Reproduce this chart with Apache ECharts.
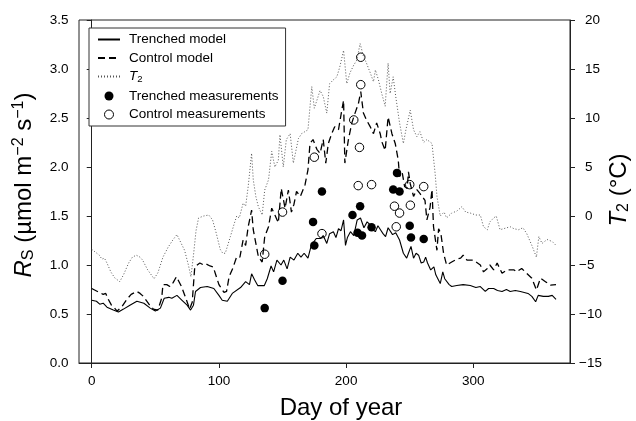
<!DOCTYPE html>
<html>
<head>
<meta charset="utf-8">
<script src="https://cdn.jsdelivr.net/npm/echarts@6/dist/echarts.min.js"></script>
<style>html,body{margin:0;padding:0;background:#fff}#c{width:636px;height:421px}</style>
</head>
<body>
<div id="c"></div>
<script>
// ---- data ----
const xTicks = [0, 100, 200, 300];
const trenchedModel = [[0,0.64],[3.7,0.63],[6.3,0.60],[9,0.61],[12,0.57],[17,0.54],[21,0.52],[25,0.55],[30,0.59],[35.5,0.63],[41,0.61],[46,0.56],[50,0.53],[54,0.56],[57,0.66],[60.6,0.67],[63,0.66],[67,0.69],[71,0.64],[75,0.59],[77.7,0.54],[80,0.59],[81.6,0.73],[85.5,0.77],[90.8,0.78],[96,0.76],[100,0.69],[102.6,0.64],[106.6,0.63],[110.5,0.71],[117,0.77],[121,0.83],[124,0.80],[125.7,0.91],[128,0.85],[130.5,0.79],[135.7,0.79],[138,0.86],[141,0.99],[143,0.93],[145.6,1.05],[148.8,1.00],[151,1.05],[153.6,0.96],[156,1.08],[159,1.05],[162,1.12],[164.5,1.08],[167,1.12],[170,1.07],[172.6,1.20],[176.5,1.27],[180,1.27],[182,1.30],[184.8,1.22],[187,1.32],[190,1.34],[192,1.28],[194,1.37],[196,1.35],[198,1.46],[199.5,1.20],[201,1.28],[203.4,1.34],[206,1.30],[208.7,1.46],[211.3,1.48],[214,1.38],[216.5,1.44],[219,1.41],[221,1.36],[223,1.34],[225,1.40],[227,1.36],[229,1.32],[231,1.29],[233,1.38],[234,1.39],[236.5,1.31],[239,1.33],[242,1.255],[245,1.12],[247.6,1.07],[249,1.12],[251,1.19],[253,1.07],[255,1.12],[257,1.10],[259,1.02],[261,1.03],[262.5,1.08],[264,1.02],[266.5,0.95],[269,0.98],[270.5,0.90],[272,0.88],[274,0.81],[276,0.93],[277.5,0.86],[279,0.85],[281,0.80],[283,0.78],[287,0.79],[292,0.80],[297.6,0.79],[302,0.77],[305.5,0.78],[309.4,0.73],[312,0.76],[316,0.76],[319,0.74],[322.6,0.73],[326,0.75],[329,0.73],[333,0.74],[337,0.73],[340,0.72],[343,0.71],[346,0.68],[349,0.625],[351,0.69],[355,0.68],[359,0.68],[362,0.69],[365,0.65]];
const controlModel = [[0,0.76],[3,0.74],[6,0.72],[9,0.70],[11,0.71],[13,0.65],[15.5,0.59],[18,0.56],[20,0.53],[24,0.58],[27.6,0.65],[31,0.70],[35.4,0.73],[38,0.71],[40.6,0.68],[45,0.60],[48.5,0.55],[52,0.54],[55,0.66],[56,0.80],[59,0.80],[61.4,0.78],[64,0.82],[66.6,0.88],[70.6,0.78],[74,0.66],[77,0.55],[79,0.62],[81,0.98],[85,1.02],[88,1.00],[90,1.01],[93,0.99],[95.5,0.98],[98,0.88],[100,0.80],[102,0.76],[104,0.72],[106,0.73],[108,0.88],[111,0.97],[114,1.085],[116.5,1.08],[119,1.255],[121,1.20],[123,1.39],[125.7,1.56],[127,1.36],[131,1.085],[134,1.03],[136,1.29],[139,1.39],[141.5,1.58],[144,1.51],[146.7,1.43],[149,1.78],[152,1.58],[154.6,1.765],[157,1.54],[159,1.62],[161,1.75],[164,1.70],[167.7,1.82],[170,1.97],[171.6,2.24],[174,2.28],[177,2.18],[179.5,2.14],[182,2.28],[184,2.04],[186,2.24],[188.7,2.34],[191,2.41],[194,2.38],[196.6,2.58],[198,2.68],[199,2.04],[201.8,2.28],[204.5,2.45],[207,2.55],[209.7,2.65],[211.5,2.77],[213.6,2.55],[216,2.48],[219,2.41],[221.5,2.34],[224,2.45],[226.8,2.34],[228,2.26],[230.7,2.17],[233,2.51],[236,2.34],[238.6,2.24],[241,2.07],[242,1.90],[244,1.95],[246,1.80],[248,1.78],[249,1.95],[250.4,1.83],[253,1.70],[255.6,1.77],[258,1.73],[262,1.66],[263.5,1.46],[266,1.59],[267.5,1.77],[268.7,1.39],[271.4,1.15],[272.7,1.37],[274.5,1.32],[276.6,1.12],[279,1.00],[283,1.03],[287,1.06],[290,1.07],[292,1.10],[295,1.05],[300,1.05],[305.5,1.00],[308,0.93],[311,0.965],[313,1.00],[316,0.95],[318.7,1.02],[322.6,0.915],[326.5,0.95],[332,0.95],[334,0.93],[338,0.965],[342,0.915],[346,0.865],[349.6,0.745],[352.8,0.865],[356.7,0.83],[360.6,0.795],[365,0.80]];
const t2 = [[0,-3.4],[3,-3.7],[6,-4.0],[8,-4.4],[10,-4.3],[12,-4.8],[15,-5.7],[18,-6.3],[22,-6.7],[25,-6.0],[29,-4.8],[32,-4.2],[35,-4.0],[38,-4.2],[40,-4.5],[44,-5.5],[49,-6.4],[52,-5.8],[56,-4.2],[60,-3.2],[64,-2.4],[67,-1.9],[70,-2.7],[73,-3.5],[76,-5.0],[78,-6.2],[80,-4.0],[82,-1.5],[84,-0.2],[88,0.0],[92,0.1],[95,-0.4],[98,-1.8],[101,-3.4],[103,-3.8],[105,-3.8],[109,-2.1],[112,-0.8],[114,0.0],[116,-0.2],[119,1.3],[121,1.0],[123,3.0],[125.7,6.4],[127,3.7],[129,2.0],[131,0.95],[134,0.1],[136,2.65],[139,3.7],[141.5,6.6],[144,5.0],[146.7,5.7],[148,8.3],[150.6,5.0],[153,7.8],[156,8.4],[158.5,5.4],[162.5,7.9],[165,8.4],[166.5,8.3],[170,8.8],[173,13.2],[175,11.0],[177,11.8],[179.5,12.8],[182,12.2],[184.8,10.5],[187,13.5],[190,13.9],[192.7,14.2],[195,15.2],[198,16.9],[200.5,13.5],[203,14.6],[206,15.4],[208.4,15.9],[211,17.6],[213.6,16.3],[216,15.6],[219,14.6],[221.5,13.7],[223,14.9],[225.4,13.9],[228,12.5],[230.7,11.2],[233,15.6],[234.6,12.5],[237,14.2],[239,12.2],[242,9.5],[245,7.4],[247,8.8],[250.4,10.8],[253,8.8],[255.6,8.1],[258,8.6],[261,7.5],[263.5,7.8],[267.5,7.4],[270,4.3],[271.4,2.0],[274,0.0],[277,0.4],[279,-0.2],[283,0.3],[287,0.5],[291,0.95],[294,0.4],[297.6,0.3],[302,0.1],[305.5,0.1],[308,-1.1],[311,-1.4],[313,-0.6],[316,-0.2],[318,0.0],[321,-1.4],[325,-1.25],[329,-1.1],[332,-1.3],[335.7,-1.4],[339,-1.2],[342,-1.8],[346,-3.0],[349.6,-4.2],[351.5,-2.1],[354,-2.8],[358,-2.4],[362,-2.6],[365,-3.0]];
const trenchedMeas = [[136,0.56],[150,0.84],[174,1.44],[175,1.20],[181,1.75],[205,1.51],[209,1.33],[211,1.60],[212.5,1.30],[220,1.385],[237,1.77],[240,1.94],[242,1.75],[250,1.40],[251,1.28],[261,1.265]];
const controlMeas = [[136,1.11],[150,1.54],[175,2.10],[181,1.32],[206,2.48],[209.5,1.81],[210.5,2.20],[211.5,2.84],[211.5,3.12],[220,1.82],[238,1.60],[239.4,1.39],[242,1.53],[250,1.82],[250.5,1.61],[261,1.80]];

const FONT = 'Liberation Sans, Arial, Helvetica, sans-serif';
const chart = echarts.init(document.getElementById('c'), null, {renderer: 'canvas'});
const axisLine = {show: true, lineStyle: {color: '#222', width: 1}};
const tick = {show: true, length: 5, lineStyle: {color: '#222', width: 1}};
const lblStyle = {color: '#000', fontSize: 13.5, fontFamily: FONT};
const hiddenSym = {opacity: 0, color: 'transparent', borderWidth: 0};

chart.setOption({
  animation: false,
  backgroundColor: '#fff',
  grid: {left: 79, right: 66, top: 20, bottom: 58, show: true, borderColor: '#222', borderWidth: 1, backgroundColor: 'transparent'},
  xAxis: {
    type: 'value', min: -10, max: 376,
    axisLine: axisLine,
    axisTick: Object.assign({}, tick, {customValues: xTicks}),
    axisLabel: Object.assign({}, lblStyle, {margin: 11, customValues: xTicks}),
    splitLine: {show: false}
  },
  yAxis: [{
    type: 'value', min: 0, max: 3.5, interval: 0.5, position: 'left',
    axisLine: axisLine, axisTick: tick,
    axisLabel: Object.assign({}, lblStyle, {margin: 10.5, formatter: v => v.toFixed(1)}),
    splitLine: {show: false}
  }, {
    type: 'value', min: -15, max: 20, interval: 5, position: 'right',
    axisLine: axisLine, axisTick: tick,
    axisLabel: Object.assign({}, lblStyle, {margin: 9, align: 'left',
      formatter: v => v < 0 ? '\u2212' + (-v) : '{p|' + v + '}',
      rich: {p: {padding: [0, 0, 0, 6], fontSize: 13.5, fontFamily: FONT, color: '#000'}}}),
    splitLine: {show: false}
  }],
  legend: {
    orient: 'vertical', left: 89, top: 28, selectedMode: false,
    backgroundColor: '#fff', borderColor: '#333', borderWidth: 1, borderRadius: 0,
    padding: [4.5, 7, 4.5, 8], itemWidth: 22, itemHeight: 9, itemGap: 4.5,
    textStyle: {color: '#000', fontSize: 13.5, fontFamily: FONT, lineHeight: 14, padding: [0, 0, 0, 4],
      rich: {
        i: {fontStyle: 'italic', fontSize: 13.5, fontFamily: FONT, color: '#000', verticalAlign: 'middle'},
        sub: {fontSize: 9.5, fontFamily: FONT, color: '#000', padding: [6, 0, 0, 0], verticalAlign: 'middle'}
      }},
    formatter: n => n === 'T2' ? '{i|T}{sub|2}' : n,
    data: [
      {name: 'Trenched model', itemStyle: hiddenSym},
      {name: 'Control model', itemStyle: hiddenSym},
      {name: 'T2', itemStyle: hiddenSym},
      {name: 'Trenched measurements', icon: 'circle', itemStyle: {color: '#000', borderWidth: 0}},
      {name: 'Control measurements', icon: 'circle', itemStyle: {color: '#fff', borderColor: '#000', borderWidth: 1}}
    ]
  },
  graphic: [
    {type: 'text', x: 24, y: 185, rotation: Math.PI / 2, silent: true,
      style: {text: '{i|R}{sub|S} (µmol m{sup|\u22122} s{sup|\u22121})', align: 'center', verticalAlign: 'middle',
        fontSize: 24, fontFamily: FONT, fill: '#000',
        rich: {
          i: {fontStyle: 'italic', fontSize: 24, fontFamily: FONT, verticalAlign: 'middle'},
          sub: {fontSize: 16, fontFamily: FONT, padding: [10, 0, 0, 0], verticalAlign: 'middle'},
          sup: {fontSize: 16, fontFamily: FONT, padding: [0, 0, 11, 0], verticalAlign: 'middle'}
        }}},
    {type: 'text', x: 619, y: 190, rotation: Math.PI / 2, silent: true,
      style: {text: '{i|T}{sub|2} (°C)', align: 'center', verticalAlign: 'middle',
        fontSize: 24, fontFamily: FONT, fill: '#000',
        rich: {
          i: {fontStyle: 'italic', fontSize: 24, fontFamily: FONT, verticalAlign: 'middle'},
          sub: {fontSize: 16, fontFamily: FONT, padding: [10, 0, 0, 0], verticalAlign: 'middle'}
        }}},
    {type: 'text', x: 341, y: 408, silent: true,
      style: {text: 'Day of year', align: 'center', verticalAlign: 'middle', fontSize: 24, fontFamily: FONT, fill: '#000'}}
  ],
  series: [
    {name: 'Trenched model', type: 'line', yAxisIndex: 0, data: trenchedModel, symbol: 'none', showSymbol: false,
      lineStyle: {color: '#000', width: 1.1, type: 'solid'}, itemStyle: {color: '#000'}},
    {name: 'Control model', type: 'line', yAxisIndex: 0, data: controlModel, symbol: 'none', showSymbol: false,
      lineStyle: {color: '#000', width: 1.3, type: [7, 4]}, itemStyle: {color: '#000'}},
    {name: 'T2', type: 'line', yAxisIndex: 1, data: t2, symbol: 'none', showSymbol: false,
      lineStyle: {color: '#555', width: 1, type: [1, 2]}, itemStyle: {color: '#555'}},
    {name: 'Trenched measurements', type: 'scatter', yAxisIndex: 0, data: trenchedMeas, symbol: 'circle', symbolSize: 8.5,
      itemStyle: {color: '#000', opacity: 1}},
    {name: 'Control measurements', type: 'scatter', yAxisIndex: 0, data: controlMeas, symbol: 'circle', symbolSize: 8.5,
      itemStyle: {color: '#fff', borderColor: '#000', borderWidth: 1, opacity: 1}}
  ]
});
</script>
</body>
</html>
